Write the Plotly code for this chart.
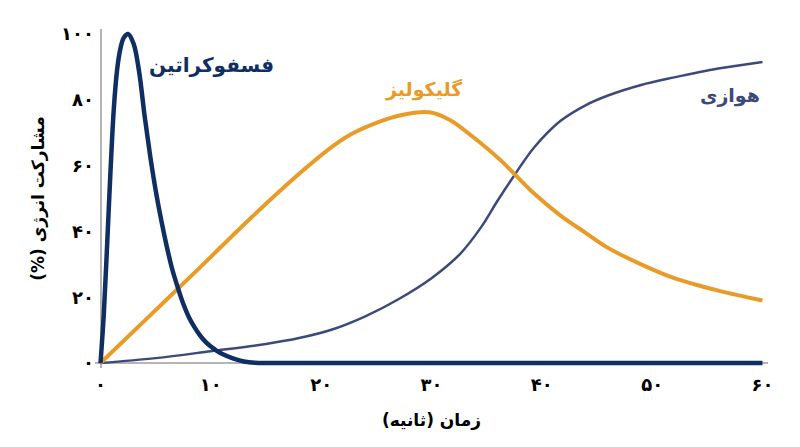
import plotly.graph_objects as go

# zaman (s) va sahm-e enerzhi (%) baraye har dastgah
pcr_x = [0, 0.3, 0.6, 0.9, 1.2, 1.5, 1.8, 2.1, 2.5, 3.0, 3.5, 4.0, 4.5, 5.0, 5.5, 6.0,
         6.5, 7.0, 7.5, 8.0, 8.5, 9.0, 9.5, 10.0, 10.5, 11.0, 12.0, 13.0, 14.0, 15.0, 60]
pcr_y = [0, 15, 36, 58, 77, 89, 95.5, 98.8, 100, 97, 88.5, 75, 63, 52.5, 43.5, 35.5,
         28.5, 23, 18, 14, 11, 8.5, 6.5, 5, 3.8, 2.8, 1.4, 0.5, 0.1, 0, 0]

gly_x = [0, 4.5, 9, 13.6, 18, 20.5, 22.7, 25, 27.2, 29.8, 31.7, 33.8, 36.3, 37.5,
         39.3, 41.7, 44, 46, 49, 52, 56, 60]
gly_y = [0, 14.5, 29, 44, 57.5, 64.5, 69.5, 73, 75.3, 76.2, 73.8, 68.6, 61.5, 57.5,
         51.5, 44.8, 39.5, 35, 30, 25.8, 22, 19]

aer_x = [0, 5, 10, 15, 18, 21, 24, 27, 30, 32.6, 34.5, 36, 37.5, 39.3, 41.7,
         44, 46, 49, 52, 56, 60]
aer_y = [0, 1.5, 3.6, 5.8, 7.6, 10.2, 14.2, 19.4, 25.8, 33.2, 41.3, 49.4, 57, 65.5, 73.6,
         78.4, 81.3, 84.5, 86.8, 89.5, 91.5]

x_ticks = [0, 10, 20, 30, 40, 50, 60]
x_labels = ['۰', '۱۰', '۲۰', '۳۰', '۴۰', '۵۰', '۶۰']
y_ticks = [0, 20, 40, 60, 80, 100]
y_labels = ['۰', '۲۰', '۴۰', '۶۰', '۸۰', '۱۰۰']

NAVY = '#0f2f63'
ORANGE = '#e89c27'
SLATE = '#3b4a7b'
FONT = 'DejaVu Sans'
RLM = '\u200f'

fig = go.Figure()
fig.add_trace(go.Scatter(x=aer_x, y=aer_y, mode='lines', line=dict(color=SLATE, width=2.5, shape='spline'),
                         name='هوازی', showlegend=False))
fig.add_trace(go.Scatter(x=gly_x, y=gly_y, mode='lines', line=dict(color=ORANGE, width=4, shape='spline'),
                         name='گلیکولیز', showlegend=False))
fig.add_trace(go.Scatter(x=pcr_x, y=pcr_y, mode='lines', line=dict(color=NAVY, width=4.5, shape='spline'),
                         name='فسفوکراتین', showlegend=False))

# barchasb-e montahi
fig.add_annotation(x=10.1, y=90.5, text='<b>فسفوکراتین</b>', showarrow=False,
                   font=dict(family=FONT, size=20, color=NAVY))
fig.add_annotation(x=29.3, y=83, text='<b>گلیکولیز</b>', showarrow=False,
                   font=dict(family=FONT, size=19, color=ORANGE))
fig.add_annotation(x=57.1, y=81.2, text='<b>هوازی</b>', showarrow=False,
                   font=dict(family=FONT, size=19, color=SLATE))

# safhe-ye html 8px hashie darad, pas hashie-ha ra jobran mikonim
fig.update_layout(
    width=800, height=447,
    margin=dict(l=87, r=40, t=21, b=87),
    plot_bgcolor='white', paper_bgcolor='white',
    font=dict(family=FONT, color='black'),
)
fig.update_xaxes(range=[-0.5, 60.5], showgrid=False, showline=False, automargin=False,
                 zeroline=True, zerolinecolor='#b5b5b5', zerolinewidth=1.5,
                 tickvals=x_ticks, ticktext=['<b>%s</b>' % t for t in x_labels],
                 tickfont=dict(size=18, family=FONT), ticks='', ticklabelstandoff=4,
                 title=dict(text='<b>زمان (ثانیه)</b>', font=dict(size=17, family=FONT), standoff=20))
fig.update_yaxes(range=[-1.5, 101.5], showgrid=False, showline=False, automargin=False,
                 zeroline=True, zerolinecolor='#b5b5b5', zerolinewidth=1.5,
                 tickvals=y_ticks, ticktext=['<b>%s</b>' % t for t in y_labels],
                 tickfont=dict(size=18, family=FONT), ticks='',
                 title=dict(text='<b>مشارکت انرژی (%)' + RLM + '</b>', font=dict(size=17, family=FONT),
                            standoff=12))

fig.write_html("out.html")
